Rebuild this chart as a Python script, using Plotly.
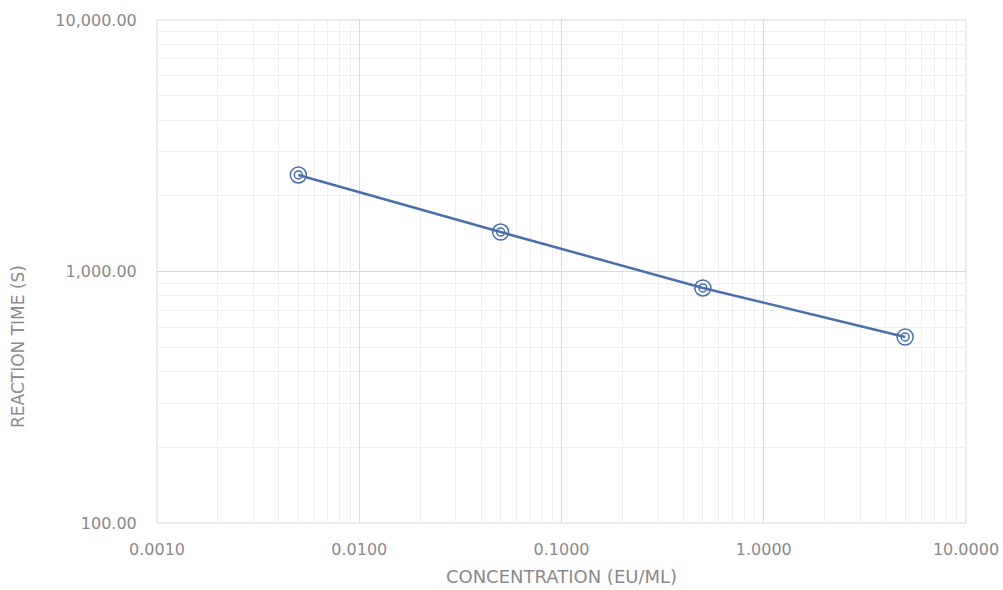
import plotly.graph_objects as go

concentration = [0.005, 0.05, 0.5, 5.0]
reaction_time = [2420, 1435, 860, 549]

x_tickvals = [0.001, 0.01, 0.1, 1, 10]
x_ticktext = ["0.0010", "0.0100", "0.1000", "1.0000", "10.0000"]
y_tickvals = [100, 1000, 10000]
y_ticktext = ["100.00", "1,000.00", "10,000.00"]

x_minor = [m * d for d in [0.001, 0.01, 0.1, 1] for m in range(2, 10)]
y_minor = [m * d for d in [100, 1000] for m in range(2, 10)]

line_color = "#4a70ab"
font_fam = "'DejaVu Sans', sans-serif"
text_color = "#8a8a8a"

fig = go.Figure()
fig.add_trace(go.Scatter(
    x=concentration, y=reaction_time, mode="lines",
    line=dict(color=line_color, width=2.5), showlegend=False, hoverinfo="skip"))
fig.add_trace(go.Scatter(
    x=concentration, y=reaction_time, mode="markers",
    marker=dict(symbol="circle-open", size=16, color=line_color, line=dict(width=1.5)),
    showlegend=False))
fig.add_trace(go.Scatter(
    x=concentration, y=reaction_time, mode="markers",
    marker=dict(symbol="circle-open", size=8, color=line_color, line=dict(width=1.5)),
    showlegend=False))

axis_common = dict(
    type="log", showline=False, zeroline=False, automargin=False,
    gridcolor="#d9d9d9", gridwidth=1,
    tickfont=dict(family=font_fam, size=16, color=text_color),
    ticks="outside", tickcolor="rgba(0,0,0,0)",
    ticklabeloverflow="allow",
)

fig.update_layout(
    width=1003, height=590,
    margin=dict(l=157, r=37, t=20, b=67, autoexpand=False),
    paper_bgcolor="white", plot_bgcolor="white",
    xaxis=dict(
        **axis_common,
        range=[-3, 1], ticklen=12,
        tickmode="array", tickvals=x_tickvals, ticktext=x_ticktext,
        title_text="CONCENTRATION (EU/ML)", title_standoff=12,
        title_font=dict(family=font_fam, size=18, color=text_color),
        minor=dict(tickmode="array", tickvals=x_minor, showgrid=True,
                   gridcolor="#efefef", ticks=""),
    ),
    yaxis=dict(
        **axis_common,
        range=[2, 4], ticklen=16,
        tickmode="array", tickvals=y_tickvals, ticktext=y_ticktext,
        minor=dict(tickmode="array", tickvals=y_minor, showgrid=True,
                   gridcolor="#efefef", ticks=""),
    ),
)
fig.add_annotation(
    text="REACTION TIME (S)", textangle=-90, showarrow=False,
    xref="paper", yref="paper", x=0, y=0.35, xanchor="center", yanchor="middle",
    xshift=-139, font=dict(family=font_fam, size=17, color=text_color))
fig.add_shape(type="rect", xref="paper", yref="paper", x0=0, y0=0, x1=1, y1=1,
              line=dict(color="#d9d9d9", width=1), layer="below")

fig.write_html("out.html", config={"displayModeBar": False},
               post_script="document.body.style.margin='0px';document.body.style.overflow='hidden';")
